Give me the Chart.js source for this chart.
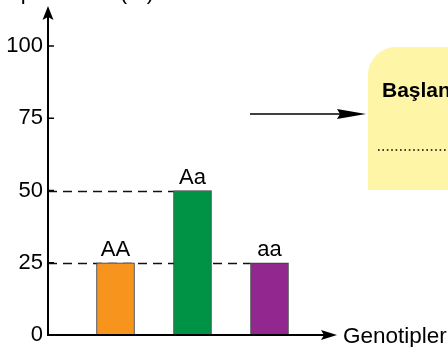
<!DOCTYPE html>
<html>
<head>
<meta charset="utf-8">
<script src="https://cdn.jsdelivr.net/npm/chart.js@4"></script>
<style>
  html, body { margin: 0; padding: 0; background: #fff; }
  #wrap { width: 448px; height: 347px; }
</style>
</head>
<body>
<div id="wrap"><canvas id="genChart" width="448" height="347"></canvas></div>
<script>
const genotypes = ['AA', 'Aa', 'aa'];
const percentages = [25, 50, 25];
const barColors = ['#f7941d', '#009245', '#92278f'];
const yTicks = [0, 25, 50, 75, 100];
const guideValues = [25, 50];
const yTitle = 'Genotip oranları (%)';
const xTitle = 'Genotipler';
const boxTitle = 'Başlangıç';

const FONT = '"Liberation Sans", Arial, sans-serif';
const AXIS_X = 48; // vertical axis position

const ctx = document.getElementById('genChart').getContext('2d');

const drawing = {
    id: 'drawing',
    beforeDatasetsDraw: function(chart) {
        // dashed guide lines behind the bars
        const c = chart.ctx, y = chart.scales.y;
        const bars = chart.getDatasetMeta(0).data;
        c.save();
        c.strokeStyle = '#111';
        c.lineWidth = 1.4;
        c.setLineDash([9, 6]);
        guideValues.forEach(function(v) {
            let endX = AXIS_X;
            bars.forEach(function(b, i) {
                if (percentages[i] === v) endX = b.x - b.width / 2;
            });
            const py = Math.round(y.getPixelForValue(v)) + 0.5;
            c.beginPath();
            c.moveTo(AXIS_X, py);
            c.lineTo(endX, py);
            c.stroke();
        });
        c.restore();
    },
    afterDatasetsDraw: function(chart) {
        const c = chart.ctx, y = chart.scales.y;
        const bars = chart.getDatasetMeta(0).data;
        const base = y.getPixelForValue(0);
        c.save();

        // axes
        c.strokeStyle = '#000';
        c.fillStyle = '#000';
        c.lineWidth = 2;
        c.beginPath();
        c.moveTo(AXIS_X, 16);
        c.lineTo(AXIS_X, base);
        c.lineTo(326, base);
        c.stroke();

        // y arrow head
        c.beginPath();
        c.moveTo(AXIS_X, 6);
        c.lineTo(AXIS_X + 5.5, 20);
        c.lineTo(AXIS_X, 17);
        c.lineTo(AXIS_X - 5.5, 20);
        c.closePath();
        c.fill();

        // x arrow head
        c.beginPath();
        c.moveTo(337, base);
        c.lineTo(321, base - 5);
        c.lineTo(324, base);
        c.lineTo(321, base + 5);
        c.closePath();
        c.fill();

        // ticks + labels
        c.lineWidth = 1.5;
        c.font = '22px ' + FONT;
        c.textAlign = 'right';
        c.textBaseline = 'middle';
        yTicks.forEach(function(t) {
            const py = y.getPixelForValue(t);
            if (t !== 0) {
                c.beginPath();
                c.moveTo(AXIS_X, py);
                c.lineTo(AXIS_X + 6, py);
                c.stroke();
            }
            c.fillText(String(t), 43, py);
        });

        // bar labels
        c.textAlign = 'center';
        c.textBaseline = 'alphabetic';
        bars.forEach(function(b, i) {
            c.fillText(genotypes[i], b.x, b.y - 7);
        });

        // axis titles
        c.textAlign = 'left';
        c.font = '22.5px ' + FONT;
        c.fillText(xTitle, 343, 343);
        c.font = '22px ' + FONT;
        c.textAlign = 'right';
        c.fillText(yTitle, 154, -1);

        // pointer arrow
        c.lineWidth = 1.5;
        c.beginPath();
        c.moveTo(250, 114);
        c.lineTo(340, 114);
        c.stroke();
        c.beginPath();
        c.moveTo(366, 114);
        c.lineTo(337, 109);
        c.lineTo(340, 114);
        c.lineTo(337, 119);
        c.closePath();
        c.fill();

        // yellow box
        c.fillStyle = '#fff5a6';
        c.beginPath();
        c.moveTo(368, 190);
        c.lineTo(368, 75);
        c.arcTo(368, 47, 396, 47, 28);
        c.lineTo(460, 47);
        c.lineTo(460, 190);
        c.closePath();
        c.fill();

        c.fillStyle = '#000';
        c.font = 'bold 21px ' + FONT;
        c.textAlign = 'left';
        c.fillText(boxTitle, 382, 97);

        c.strokeStyle = '#000';
        c.lineWidth = 1.6;
        c.setLineDash([1.6, 2.8]);
        c.beginPath();
        c.moveTo(378, 150);
        c.lineTo(448, 150);
        c.stroke();

        c.restore();
    }
};

new Chart(ctx, {
    type: 'bar',
    data: {
        labels: genotypes,
        datasets: [{
            data: percentages,
            backgroundColor: barColors,
            borderColor: '#3a3a3a',
            borderWidth: 1,
            barThickness: 38
        }]
    },
    options: {
        responsive: false,
        animation: false,
        layout: { padding: { left: 77, right: 140, top: 46, bottom: 12 } },
        scales: {
            x: { display: false },
            y: { display: false, min: 0, max: 100 }
        },
        plugins: {
            legend: { display: false },
            tooltip: { enabled: false }
        }
    },
    plugins: [drawing]
});
</script>
</body>
</html>
